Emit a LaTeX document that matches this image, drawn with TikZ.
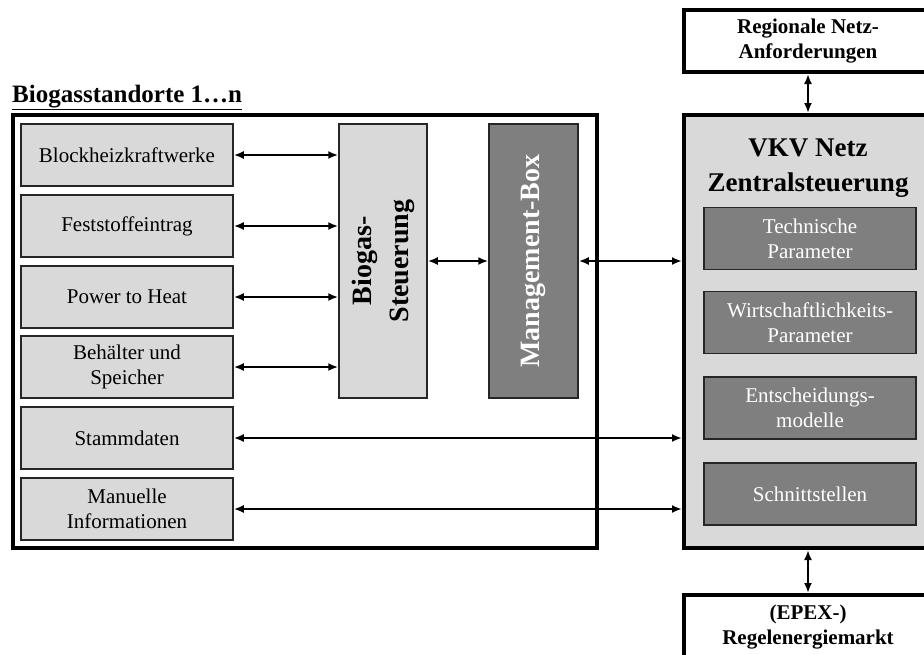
\documentclass[tikz,border=0pt]{standalone}
\usepackage{fontspec}
\setmainfont{Liberation Serif}
\usetikzlibrary{arrows.meta}
\definecolor{hellgrau}{HTML}{D9D9D9}
\definecolor{dunkelgrau}{HTML}{7F7F7F}
\tikzstyle{modul}=[draw=black!85,line width=1.5pt,fill=hellgrau,minimum width=212pt,minimum height=62pt,inner sep=0pt,align=center,font=\fontsize{21}{25}\selectfont]
\tikzstyle{param}=[modul,fill=dunkelgrau,text=white]
\tikzstyle{extern}=[draw=black,line width=4pt,fill=white,minimum width=248pt,minimum height=62pt,inner sep=0pt,align=center,font=\fontsize{21}{25}\selectfont\bfseries]
\tikzstyle{pfeil}=[line width=2pt,>={Latex[length=10pt,width=8pt]},<->]
\newcommand{\zweizeilig}[2]{\begin{tabular}{@{}c@{}}#1\\#2\end{tabular}}

\begin{document}
\begin{tikzpicture}[x=1pt,y=-1pt]
    \useasboundingbox (0,0) rectangle (924,654);
    \clip (0,0) rectangle (924,654);
    % Biogasstandort
    \node[font=\fontsize{25}{30}\selectfont\bfseries,anchor=base west,inner sep=0pt] (titel) at (12,102) {\underline{Biogasstandorte 1…n}};
    \node[draw=black,line width=4pt,minimum width=584pt,minimum height=433pt,inner sep=0pt] (standort) at (305,331.5) {};
    \node[modul] (bhkw) at (127,155) {Blockheizkraftwerke};
    \node[modul] (feststoff) at (127,226) {Feststoffeintrag};
    \node[modul] (pth) at (127,297) {Power to Heat};
    \node[modul] (speicher) at (127,367) {Behälter und\\Speicher};
    \node[modul] (stamm) at (127,438) {Stammdaten};
    \node[modul] (manuell) at (127,509) {Manuelle\\Informationen};
    \node[modul,minimum width=88pt,minimum height=274pt,font=\fontsize{28}{37}\selectfont\bfseries] (biogas) at (383,261) {\rotatebox{90}{\zweizeilig{Biogas-}{Steuerung}}};
    \node[param,minimum width=89pt,minimum height=274pt,font=\fontsize{28}{34}\selectfont\bfseries] (mbox) at (533.5,261) {\rotatebox{90}{Management-Box}};
    % Zentralsteuerung
    \node[draw=black,line width=4pt,fill=hellgrau,minimum width=248pt,minimum height=433pt,inner sep=0pt] (zentral) at (808,331.5) {};
    \node[font=\fontsize{27}{35}\selectfont\bfseries,align=center,inner sep=0pt] (vkv) at (808,168) {VKV Netz\\Zentralsteuerung};
    \node[param] (technik) at (810,238.5) {Technische\\Parameter};
    \node[param] (wirtschaft) at (810,322.5) {Wirtschaftlichkeits-\\Parameter};
    \node[param] (entscheidung) at (810,408) {Entscheidungs-\\modelle};
    \node[param] (schnitt) at (810,494) {Schnittstellen};
    % externe Partner
    \node[extern] (regional) at (808,41) {Regionale Netz-\\Anforderungen};
    \node[extern,minimum height=0pt,inner ysep=10pt,anchor=north] (epex) at (808,593) {(EPEX-)\\Regelenergiemarkt};
    % Verbindungen
    \draw[pfeil] (bhkw.east) -- (bhkw.east -| biogas.west);
    \draw[pfeil] (feststoff.east) -- (feststoff.east -| biogas.west);
    \draw[pfeil] (pth.east) -- (pth.east -| biogas.west);
    \draw[pfeil] (speicher.east) -- (speicher.east -| biogas.west);
    \draw[pfeil] (biogas.east) -- (mbox.west);
    \draw[pfeil] (mbox.east) -- (mbox.east -| zentral.west);
    \draw[pfeil] (stamm.east) -- (stamm.east -| zentral.west);
    \draw[pfeil] (manuell.east) -- (manuell.east -| zentral.west);
    \draw[pfeil] (regional.south) -- (zentral.north);
    \draw[pfeil] (zentral.south) -- (epex.north);
\end{tikzpicture}
\end{document}
